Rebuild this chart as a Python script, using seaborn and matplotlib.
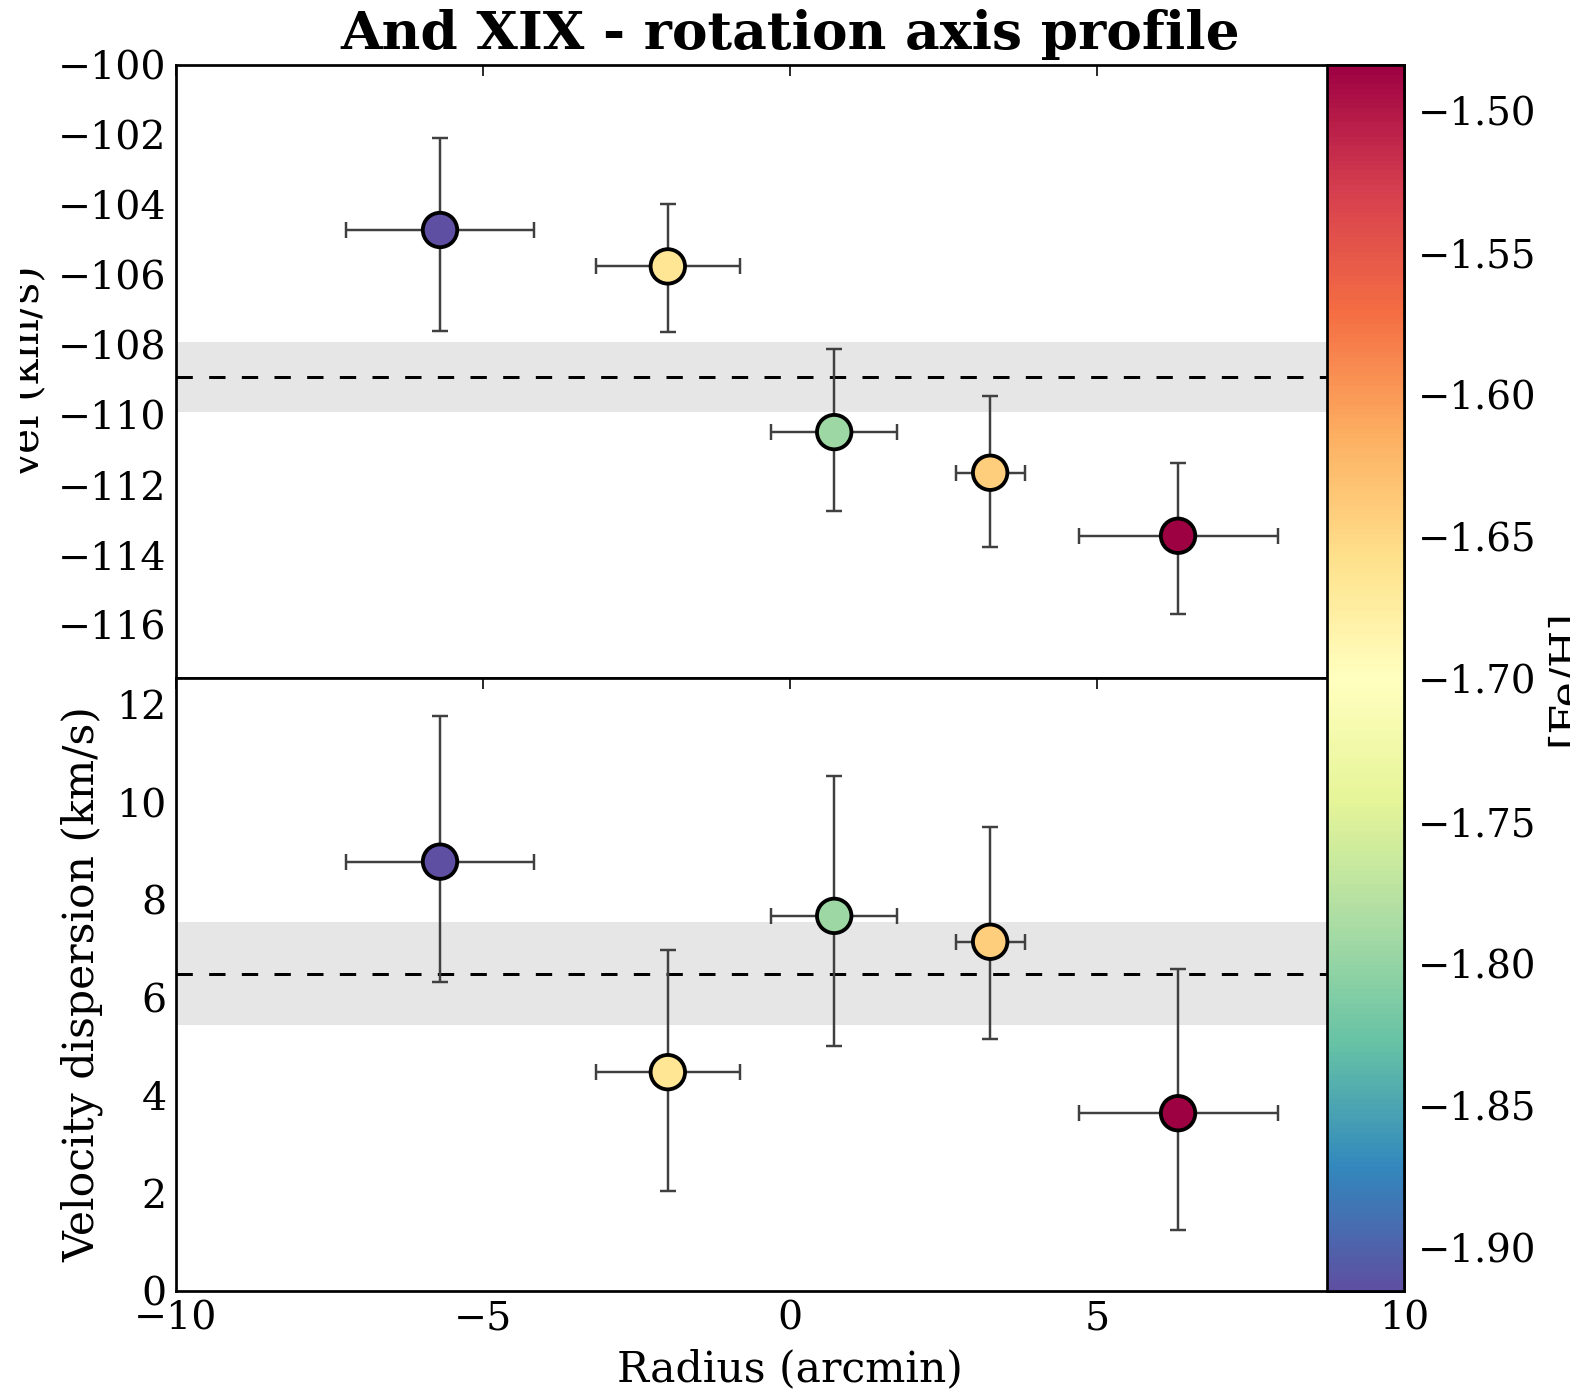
import numpy as np
import pandas as pd
import matplotlib
matplotlib.use("Agg")
import matplotlib.pyplot as plt
import seaborn as sns
from matplotlib.colors import Normalize
from matplotlib.cm import ScalarMappable
from matplotlib.ticker import MultipleLocator, FuncFormatter
from matplotlib.transforms import Bbox

# ---- data ----
radius = [-5.70, -1.99, 0.72, 3.26, 6.32]
radius_err = [1.53, 1.17, 1.03, 0.56, 1.62]
vel = [-104.71, -105.75, -110.48, -111.64, -113.44]
vel_err_lo = [2.89, 1.87, 2.25, 2.13, 2.22]
vel_err_hi = [2.63, 1.78, 2.37, 2.18, 2.07]
disp = [8.79, 4.48, 7.68, 7.15, 3.64]
disp_err_lo = [2.46, 2.43, 2.66, 1.99, 2.39]
disp_err_hi = [2.99, 2.50, 2.87, 2.35, 2.95]
feh = [-1.915, -1.665, -1.794, -1.642, -1.484]
vel_mean, vel_mean_err = -108.9, 1.0
disp_mean, disp_mean_err = 6.5, 1.05
cbar_ticks = [-1.90, -1.85, -1.80, -1.75, -1.70, -1.65, -1.60, -1.55, -1.50]

df = pd.DataFrame({"radius": radius, "vel": vel, "disp": disp, "feh": feh})

sns.set_style("white")
plt.rcParams["font.family"] = ["DejaVu Serif"]
plt.rcParams["mathtext.fontset"] = "dejavuserif"
plt.rcParams["axes.unicode_minus"] = True
plt.rcParams["lines.scale_dashes"] = False
for k in ["text.color", "axes.labelcolor", "xtick.color", "ytick.color",
          "axes.edgecolor"]:
    plt.rcParams[k] = "black"

TICK_FS = 14.5
LABEL_FS = 15.6

W, H = 1570, 1395
DPI = 196
fig = plt.figure(figsize=(W / DPI, H / DPI), dpi=DPI)
left, right = 176, 1404
ax1 = fig.add_axes([left / W, 1 - 678 / H, (right - left) / W, 613 / H])
ax2 = fig.add_axes([left / W, 1 - 1291 / H, (right - left) / W, 613 / H], sharex=ax1)
cax = fig.add_axes([1327 / W, 1 - 1291 / H, 77 / W, 1226 / H])

norm = Normalize(min(feh), max(feh))
cmap = "Spectral_r"

for ax, ycol, lo, hi, m, me in [
    (ax1, "vel", vel_err_lo, vel_err_hi, vel_mean, vel_mean_err),
    (ax2, "disp", disp_err_lo, disp_err_hi, disp_mean, disp_mean_err),
]:
    ax.axhspan(m - me, m + me, color="0.9", lw=0, zorder=0)
    ax.axhline(m, color="black", lw=1.1, dashes=(6, 6), zorder=1)
    ax.errorbar(df["radius"], df[ycol], yerr=[lo, hi], xerr=radius_err,
                fmt="none", ecolor="0.25", elinewidth=0.9, capsize=3,
                capthick=0.9, zorder=2)
    sns.scatterplot(data=df, x="radius", y=ycol, hue="feh", palette=cmap,
                    hue_norm=norm, s=160, edgecolor="black", linewidth=1.4,
                    legend=False, ax=ax, zorder=3)
    ax.tick_params(direction="in", top=True, right=True, length=4, width=0.6,
                   labelsize=TICK_FS, pad=3.5)
    for sp in ax.spines.values():
        sp.set_linewidth(1.0)
        sp.set_color("black")
    ax.set_xlabel("")
    ax.set_ylabel("")

ax1.set_xlim(-10, 10)
ax1.xaxis.set_major_locator(MultipleLocator(5))
ax1.set_ylim(-117.5, -100)
ax1.yaxis.set_major_locator(MultipleLocator(2))
ax1.tick_params(labelbottom=False)
ax2.set_ylim(0, 12.55)
ax2.yaxis.set_major_locator(MultipleLocator(2))

ax1.set_ylabel("vel (km/s)", fontsize=LABEL_FS)
ax1.yaxis.set_label_coords((47 - left) / (right - left), 0.5)
# the reference shows this label partly cut at its left side
lab = ax1.yaxis.label
lab.set_clip_box(Bbox.from_extents(20, 0, W, H))
lab.set_clip_on(True)

ax2.set_ylabel("Velocity dispersion (km/s)", fontsize=LABEL_FS)
ax2.yaxis.set_label_coords((103 - left) / (right - left), 0.5)
ax2.set_xlabel("Radius (arcmin)", fontsize=LABEL_FS)

ax1.set_title("And XIX - rotation axis profile", fontsize=19.6,
              fontweight="bold", pad=6)

sm = ScalarMappable(norm=norm, cmap=cmap)
cb = fig.colorbar(sm, cax=cax, ticks=cbar_ticks,
                  format=FuncFormatter(lambda v, p: f"{v:.2f}".replace("-", "\u2212")))
cb.outline.set_linewidth(1.0)
cb.outline.set_edgecolor("black")
cax.tick_params(direction="in", length=4, width=0.6, labelsize=14.2, pad=5)
cb.set_label("[Fe/H]", fontsize=LABEL_FS, labelpad=3)

fig.savefig("out.png", dpi=DPI)
